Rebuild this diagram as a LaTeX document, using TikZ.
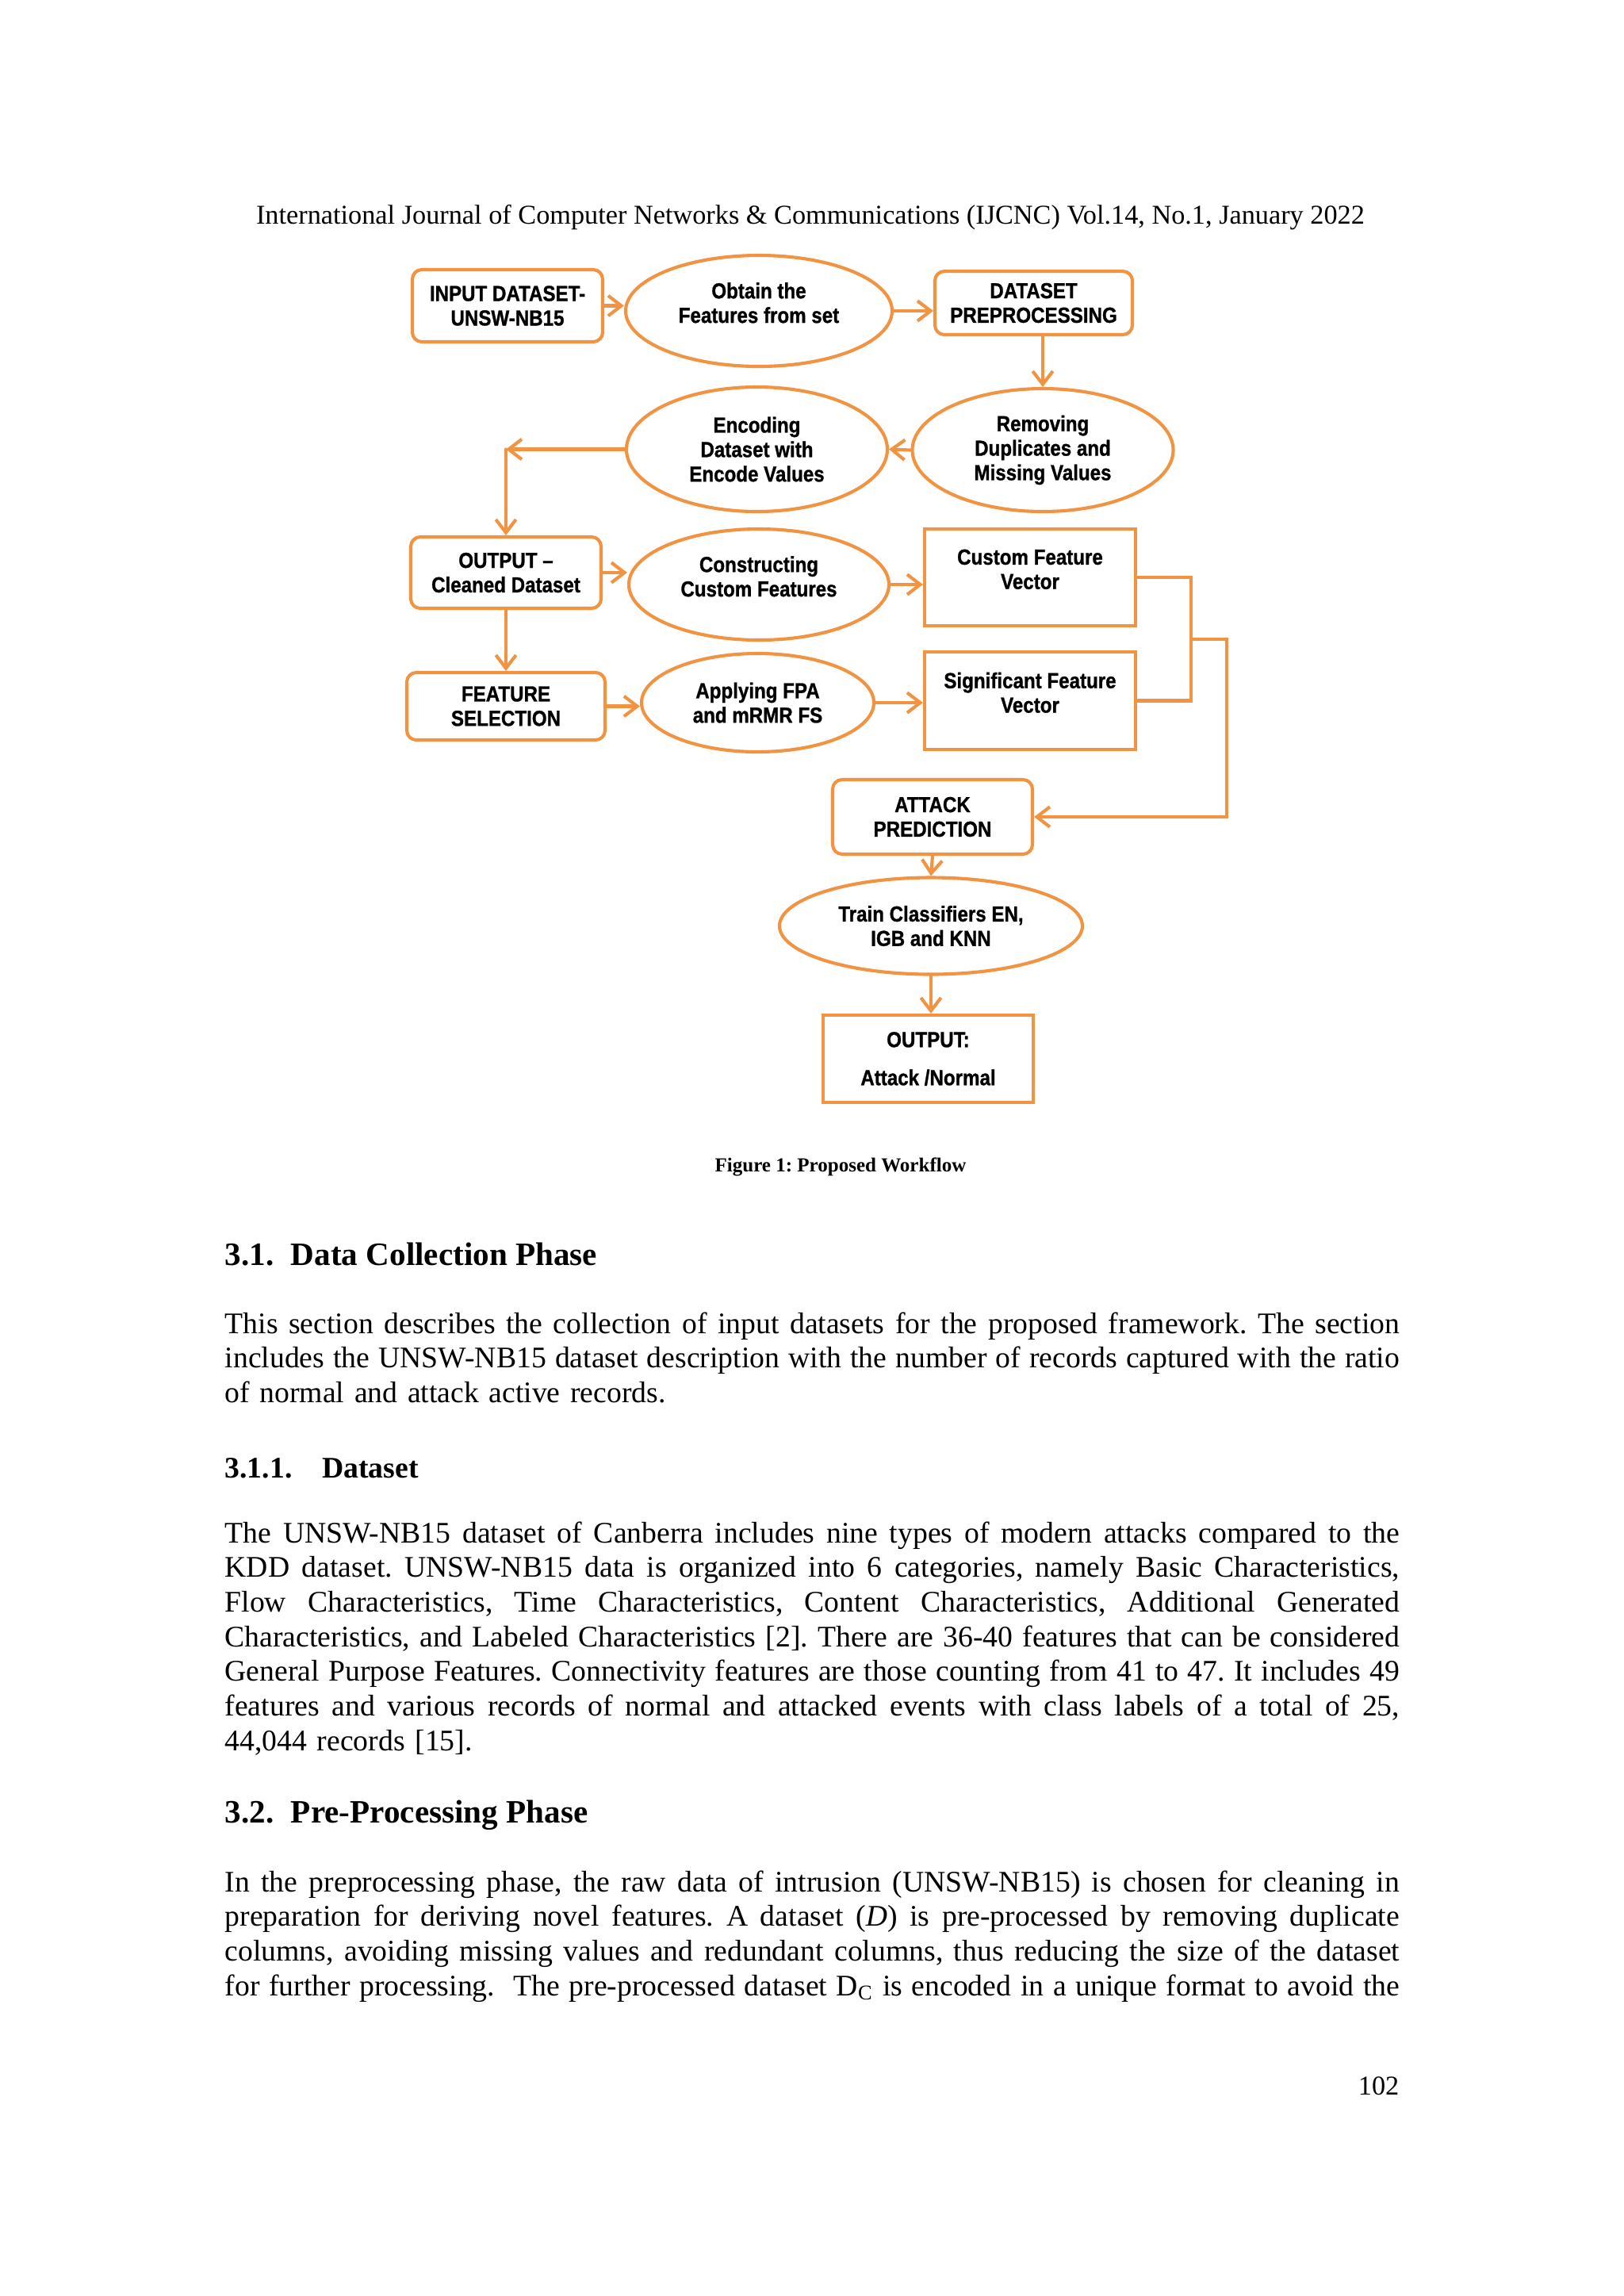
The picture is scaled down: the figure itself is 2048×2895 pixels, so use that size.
\documentclass[tikz,border=0pt]{standalone}
\usepackage{fontspec}
\setmainfont{Liberation Serif}
\newfontfamily\chartfont{Liberation Sans}[FakeStretch=0.88,FakeBold=1]
\usetikzlibrary{shapes.geometric,arrows.meta,calc}

% one justified line of the running text
\newlength\bodywidth
\setlength\bodywidth{15.19cm}
\newcommand\fullline[1]{{\spaceskip=0.25em plus 1em minus 0.12em\hbox to\bodywidth{#1}}\par}
\def\pxu{0.01025cm}
\frenchspacing

\begin{document}
\begin{tikzpicture}
[x=0.01025cm,y=-0.01025cm,line cap=round,
% Styles
flow/.style={draw=flowcolor,line width=1.2pt,fill=white,inner sep=0pt,align=center,
  font=\chartfont\bfseries\fontsize{8}{9}\selectfont},
round box/.style={flow,rectangle,rounded corners=3.5pt},
vector box/.style={flow,rectangle},
task/.style={flow,ellipse},
link/.style={draw=flowcolor,line width=1.2pt,-{Straight Barb[length=1.7mm,width=2.6mm]}},
line/.style={draw=flowcolor,line width=1.2pt},
page text/.style={inner sep=0pt,text width=\bodywidth,font=\fontsize{11}{12.75}\selectfont},
heading/.style={inner sep=0pt,font=\bfseries\fontsize{12}{14}\selectfont}]
% Colors
\definecolor{flowcolor}{RGB}{242,147,66}

\path[use as bounding box,fill=white] (0,0) rectangle (2048,2895);

% Running head
\node[anchor=base,inner sep=0pt,font=\fontsize{10}{12}\selectfont] (journal) at (1022,282)
  {International Journal of Computer Networks \& Communications (IJCNC) Vol.14, No.1, January 2022};

% The workflow
\node[round box,minimum width=240*\pxu,minimum height=91*\pxu] (input) at (640,385.5) {INPUT DATASET-\\UNSW-NB15};
\node[task,minimum width=336*\pxu,minimum height=140*\pxu] (obtain) at (957,392) {Obtain the\\Features from set\\[-3pt]\mbox{}};
\node[round box,minimum width=249*\pxu,minimum height=80*\pxu] (prep) at (1303.5,382) {DATASET\\PREPROCESSING};
\node[task,minimum width=329*\pxu,minimum height=155*\pxu] (remove) at (1315,567.5) {Removing\\Duplicates and\\Missing Values};
\node[task,minimum width=329*\pxu,minimum height=157*\pxu] (encode) at (954.5,566.5) {Encoding\\Dataset with\\Encode Values};
\node[round box,minimum width=240*\pxu,minimum height=90*\pxu] (cleaned) at (638,722) {OUTPUT –\\Cleaned Dataset};
\node[task,minimum width=328*\pxu,minimum height=140*\pxu] (construct) at (957,737) {Constructing\\Custom Features\\[-3pt]\mbox{}};
\node[vector box,minimum width=266*\pxu,minimum height=122*\pxu] (custom) at (1299,728) {Custom Feature\\Vector\\[-3pt]\mbox{}};
\node[round box,minimum width=250*\pxu,minimum height=85*\pxu] (select) at (638,890.5) {FEATURE\\SELECTION};
\node[task,minimum width=293*\pxu,minimum height=124*\pxu] (apply) at (955.5,886) {Applying FPA\\and mRMR FS};
\node[vector box,minimum width=266*\pxu,minimum height=123*\pxu] (significant) at (1299,883.5) {Significant Feature\\Vector\\[-3pt]\mbox{}};
\node[round box,minimum width=252*\pxu,minimum height=94*\pxu] (attack) at (1176,1030) {ATTACK\\PREDICTION};
\node[task,minimum width=382*\pxu,minimum height=122*\pxu] (train) at (1174,1167.5) {Train Classifiers EN,\\IGB and KNN};
\node[vector box,minimum width=265*\pxu,minimum height=110*\pxu] (result) at (1170.5,1335) {OUTPUT:\\[5pt]Attack /Normal};

\draw[link] (input.east) -- (input.east -| obtain.west);
\draw[link] (obtain.east) -- (obtain.east -| prep.west);
\draw[link] (prep.south -| remove.north) -- (remove.north);
\draw[link] (remove.west) -- (encode.east);
\coordinate (turn) at (cleaned.north |- encode.west);
\draw[link] (encode.west) -- (turn);
\draw[link] (turn) -- (cleaned.north);
\draw[link] (cleaned.east) -- (cleaned.east -| construct.west);
\draw[link] (construct.east) -- (construct.east -| custom.west);
\draw[link] (cleaned.south) -- (select.north);
\draw[link] (select.east) -- (select.east -| apply.west);
\draw[link] (apply.east) -- (apply.east -| significant.west);
% both vectors go on to the prediction
\draw[line] (custom.east) -- ++(68,0) coordinate (fork) |- (significant.east);
\coordinate (merge) at ($(fork)!0.5!(fork |- significant.east)$);
\draw[link] (merge) -- ++(45,0) |- (attack.east);
\draw[link] (attack.south) -- (train.north);
\draw[link] (train.south) -- (train.south |- result.north);

\node[anchor=base,inner sep=0pt,font=\bfseries\fontsize{7.3}{9}\selectfont] (caption) at (1060,1477) {Figure 1: Proposed Workflow};

% Section text
\node[heading,anchor=base west] (sec31) at (283,1595) {3.1.\hspace{6.3pt}Data Collection Phase};
\node[page text,anchor=base west] (para1) at (283,1681)
  {\fullline{This section describes the collection of input datasets for the proposed framework. The section}
   \fullline{includes the UNSW-NB15 dataset description with the number of records captured with the ratio}
   of normal and attack active records.};
\node[inner sep=0pt,anchor=base west,font=\bfseries\fontsize{11}{13}\selectfont] (sec311) at (283,1863) {3.1.1.\hspace{11pt}Dataset};
\node[page text,anchor=base west] (para2) at (283,1945)
  {\fullline{The UNSW-NB15 dataset of Canberra includes nine types of modern attacks compared to the}
   \fullline{KDD dataset. UNSW-NB15 data is organized into 6 categories, namely Basic Characteristics,}
   \fullline{Flow Characteristics, Time Characteristics, Content Characteristics, Additional Generated}
   \fullline{Characteristics, and Labeled Characteristics [2]. There are 36-40 features that can be considered}
   \fullline{General Purpose Features. Connectivity features are those counting from 41 to 47. It includes 49}
   \fullline{features and various records of normal and attacked events with class labels of a total of 25,}
   44,044 records [15].};
\node[heading,anchor=base west] (sec32) at (283,2298) {3.2.\hspace{6.3pt}Pre-Processing Phase};
\node[page text,anchor=base west] (para3) at (283,2385)
  {\fullline{In the preprocessing phase, the raw data of intrusion (UNSW-NB15) is chosen for cleaning in}
   \fullline{preparation for deriving novel features. A dataset (\textit{D}) is pre-processed by removing duplicate}
   \fullline{columns, avoiding missing values and redundant columns, thus reducing the size of the dataset}
   \fullline{for further processing.\ \ The pre-processed dataset D\textsubscript{C} is encoded in a unique format to avoid the}};
\node[anchor=base east,inner sep=0pt,font=\fontsize{10}{12}\selectfont] (pagenum) at (1765,2641) {102};
\end{tikzpicture}
\end{document}
